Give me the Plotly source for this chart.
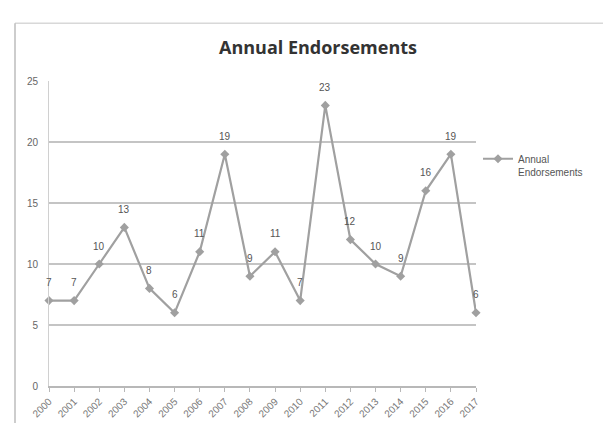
import plotly.graph_objects as go

years = list(range(2000, 2018))
year_labels = [str(y) for y in years]
endorsements = [7, 7, 10, 13, 8, 6, 11, 19, 9, 11, 7, 23, 12, 10, 9, 16, 19, 6]

W, H = 611, 423
ml, mr, mt, mb = 41, 143, 73, 39
pw = W - ml - mr
ph = H - mt - mb

fig = go.Figure()
fig.add_trace(go.Scatter(
    x=years, y=endorsements, mode="lines+markers",
    name="Annual<br>Endorsements",
    line=dict(color="#a0a0a0", width=2.2),
    marker=dict(symbol="diamond", size=7, color="#a0a0a0"),
    cliponaxis=False,
))

# data labels above each point
for xv, yv in zip(years, endorsements):
    fig.add_annotation(x=xv, y=yv, text=str(yv), showarrow=False,
                       yanchor="middle", yshift=18,
                       font=dict(family="Liberation Sans", size=10, color="#555555"))

fig.update_layout(
    width=W, height=H,
    margin=dict(l=ml, r=mr, t=mt, b=mb),
    paper_bgcolor="white", plot_bgcolor="white",
    title=dict(text="<b>Annual Endorsements</b>", x=310 / W, xanchor="center",
               y=1 - 40 / H, yanchor="middle",
               font=dict(family="Open Sans", size=18, color="#333333")),
    showlegend=True,
    legend=dict(x=(470 - ml) / pw, y=(384 - 139) / ph, xanchor="left", yanchor="top",
                font=dict(family="Liberation Sans", size=10, color="#555555"),
                bgcolor="rgba(0,0,0,0)", itemwidth=30, valign="top"),
    xaxis=dict(range=[2000, 2017], tickmode="array", tickvals=years, ticktext=year_labels,
               tickangle=-45, tickfont=dict(family="Liberation Sans", size=10, color="#777777"),
               showgrid=False, zeroline=False, showline=True, linecolor="#b8b8b8", linewidth=1.5,
               ticks="outside", ticklen=4, tickcolor="#b8b8b8"),
    yaxis=dict(range=[0, 25], tickvals=[0, 5, 10, 15, 20, 25],
               tickfont=dict(family="Liberation Sans", size=10, color="#666666"),
               showgrid=True, gridcolor="#c4c4c4", gridwidth=1.8, zeroline=False,
               showline=True, linecolor="#d0d0d0", linewidth=1, ticks="",
               ticklabelstandoff=8),
)

# outer chart frame (top and left edges visible)
fig.add_shape(type="line", xref="paper", yref="paper",
              x0=(7 - ml) / pw, x1=(W - ml) / pw, y0=(H - mb - 14) / ph, y1=(H - mb - 14) / ph,
              line=dict(color="#d8d8d8", width=1.5))
fig.add_shape(type="line", xref="paper", yref="paper",
              x0=(7 - ml) / pw, x1=(7 - ml) / pw, y0=(H - mb - 14) / ph, y1=-mb / ph,
              line=dict(color="#bdbdbd", width=1.5))

fig.write_html("out.html")
